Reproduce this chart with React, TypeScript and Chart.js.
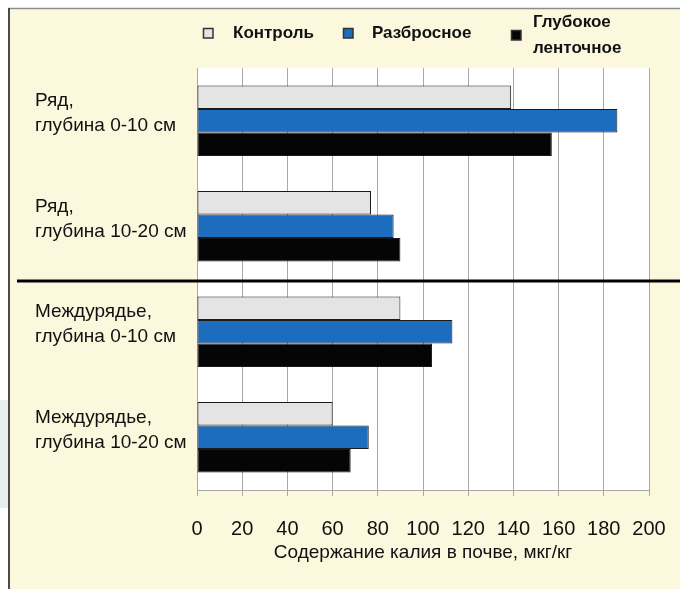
import React, { useEffect, useRef } from "react";
import { Chart, registerables } from "chart.js";

Chart.register(...registerables);

// ---- data ----
const categories: string[][] = [
  ["Ряд,", "глубина 0-10 см"],
  ["Ряд,", "глубина 10-20 см"],
  ["Междурядье,", "глубина 0-10 см"],
  ["Междурядье,", "глубина 10-20 см"],
];
const seriesNames = ["Контроль", "Разбросное", "Глубокое\nленточное"];
const controlValues = [139, 77, 90, 60];
const broadcastValues = [186, 87, 113, 76];
const deepBandValues = [157, 90, 104, 68];
const xMin = 0;
const xMax = 200;
const xStep = 20;
const axisTitle = "Содержание калия в почве, мкг/кг";

// ---- styles ----
const FONT = "'Liberation Sans', Arial, sans-serif";
const CREAM = "#fbf8dd";
const colors = ["#e4e4e4", "#1d6dbf", "#050505"];
const GRID = "#a8a8a8";

const framePlugin = {
  id: "frame",
  beforeDraw(chart: any) {
    const { ctx, width, height, chartArea } = chart;
    ctx.save();
    ctx.fillStyle = "#ffffff";
    ctx.fillRect(0, 0, width, height);
    ctx.fillStyle = "#e7efed";
    ctx.fillRect(0, 400, 8, 108);
    ctx.fillStyle = CREAM;
    ctx.fillRect(8, 8, width - 8, height - 8);
    ctx.fillStyle = "#ffffff";
    ctx.fillRect(chartArea.left, chartArea.top, chartArea.right - chartArea.left, chartArea.bottom - chartArea.top);
    ctx.strokeStyle = "#8c8c8c";
    ctx.lineWidth = 1.5;
    ctx.beginPath();
    ctx.moveTo(8, 8.5);
    ctx.lineTo(width, 8.5);
    ctx.stroke();
    ctx.strokeStyle = "#4a4a4a";
    ctx.lineWidth = 2;
    ctx.beginPath();
    ctx.moveTo(9, 8);
    ctx.lineTo(9, height);
    ctx.stroke();
    ctx.restore();
  },
  afterDatasetsDraw(chart: any) {
    const { ctx, width } = chart;
    const y = chart.scales.y.getPixelForValue(1.5) + 2;
    ctx.save();
    ctx.fillStyle = "#000";
    ctx.fillRect(17, y - 1.5, width - 17, 3);
    ctx.restore();
  },
  afterDraw(chart: any) {
    const { ctx } = chart;
    const boxX = [203, 343, 511];
    const textX = [233, 372, 533];
    const boxY = [28, 28, 30];
    ctx.save();
    ctx.font = `bold 17px ${FONT}`;
    ctx.textBaseline = "middle";
    chart.data.datasets.forEach((ds: any, i: number) => {
      ctx.fillStyle = ds.backgroundColor;
      ctx.fillRect(boxX[i], boxY[i], 10, 10);
      ctx.strokeStyle = "#333";
      ctx.lineWidth = 1.5;
      ctx.strokeRect(boxX[i] + 0.5, boxY[i] + 0.5, 9.5, 9.5);
      const lines = String(ds.label).split("\n");
      ctx.fillStyle = "#111";
      if (lines.length === 1) {
        ctx.fillText(lines[0], textX[i], 33);
      } else {
        lines.forEach((ln: string, k: number) => ctx.fillText(ln, textX[i], 22 + k * 26));
      }
    });
    ctx.restore();
  },
};

export default function App() {
  const ref = useRef<HTMLCanvasElement | null>(null);
  useEffect(() => {
    if (!ref.current) return;
    const values = [controlValues, broadcastValues, deepBandValues];
    const chart = new Chart(ref.current, {
      type: "bar",
      data: {
        labels: categories,
        datasets: seriesNames.map((name, i) => ({
          label: name,
          data: values[i],
          backgroundColor: colors[i],
          borderColor: "#1a1a1a",
          borderWidth: 1,
          borderSkipped: false,
          categoryPercentage: 0.67,
          barPercentage: 1.0,
        })),
      },
      options: {
        indexAxis: "y",
        animation: false,
        responsive: false,
        devicePixelRatio: 1,
        layout: { padding: { top: 68, left: 35, right: 31, bottom: 0 } },
        plugins: {
          legend: { display: false },
          tooltip: { enabled: false },
        },
        scales: {
          x: {
            min: xMin,
            max: xMax,
            ticks: {
              stepSize: xStep,
              color: "#111",
              font: { family: FONT, size: 20 },
              padding: 21,
            },
            grid: { color: GRID, lineWidth: 1, tickLength: 6 },
            border: { color: GRID },
            title: {
              display: true,
              text: axisTitle,
              color: "#111",
              font: { family: FONT, size: 19 },
              padding: { top: 0, bottom: 25 },
            },
            afterFit: (s: any) => {
              s.height = 99;
              s.paddingLeft = 0;
              s.paddingRight = 0;
            },
          },
          y: {
            ticks: {
              crossAlign: "far",
              color: "#111",
              font: { family: FONT, size: 19, lineHeight: 25 / 19 },
              labelOffset: -7,
              padding: 4,
            },
            grid: { display: false },
            border: { display: false },
            afterFit: (s: any) => {
              s.width = 162;
            },
          },
        },
      },
      plugins: [framePlugin],
    } as any);
    return () => chart.destroy();
  }, []);
  return (
    <div style={{ position: "fixed", left: 0, top: 0, width: 680, height: 589 }}>
      <canvas ref={ref} width={680} height={589} style={{ display: "block", width: 680, height: 589 }} />
    </div>
  );
}
